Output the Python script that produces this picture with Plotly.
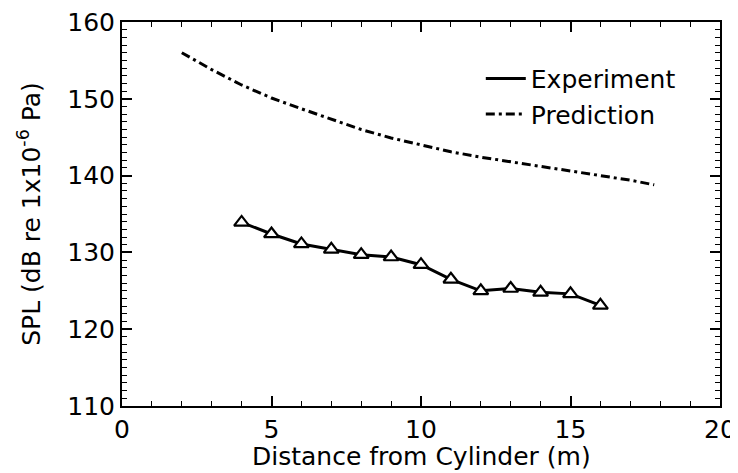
import plotly.graph_objects as go

# Data
exp_x = [4, 5, 6, 7, 8, 9, 10, 11, 12, 13, 14, 15, 16]
exp_y = [133.9, 132.4, 131.1, 130.4, 129.7, 129.4, 128.4, 126.5, 125.0, 125.3, 124.8, 124.6, 123.1]

pred_x = [2, 3, 4, 5, 6, 7, 8, 9, 10, 11, 12, 13, 14, 15, 16, 17, 17.8]
pred_y = [156.0, 153.8, 151.8, 150.1, 148.7, 147.3, 146.0, 144.9, 144.0, 143.1, 142.4, 141.8, 141.2, 140.6, 140.0, 139.4, 138.8]

x_ticks = [0, 5, 10, 15, 20]
y_ticks = [110, 120, 130, 140, 150, 160]

x_title = "Distance from Cylinder (m)"
y_title = "SPL (dB re 1x10<sup>-6</sup> Pa)"

FONT = "DejaVu Sans, Liberation Sans, Arial, sans-serif"
FS = 25

fig = go.Figure()
fig.add_trace(go.Scatter(x=exp_x, y=exp_y, mode="lines", name="Experiment",
                         line=dict(color="black", width=3)))
fig.add_trace(go.Scatter(x=pred_x, y=pred_y, mode="lines", name="Prediction",
                         line=dict(color="black", width=3, dash="9px,4px,3px,4px")))
fig.add_trace(go.Scatter(x=exp_x, y=exp_y, mode="markers", showlegend=False,
                         marker=dict(symbol="triangle-up", size=13, color="white",
                                     line=dict(color="black", width=2.2))))

axis_common = dict(showgrid=False, zeroline=False, showline=True, linecolor="black",
                   linewidth=2, mirror="allticks", ticks="inside", tickcolor="black",
                   tickwidth=1.5, ticklen=10, automargin=False, ticklabeloverflow="allow",
                   tickfont=dict(family=FONT, size=FS, color="black"))

fig.update_xaxes(range=[0, 20], tickvals=x_ticks, ticktext=[str(v) for v in x_ticks],
                 minor=dict(dtick=1, ticks="inside", ticklen=5, tickcolor="black", tickwidth=1.2),
                 **axis_common)
fig.update_yaxes(range=[110, 160], tickvals=y_ticks, ticktext=[str(v) for v in y_ticks],
                 minor=dict(dtick=1, ticks="inside", ticklen=5, tickcolor="black", tickwidth=1.2),
                 title=dict(text=y_title, standoff=20,
                            font=dict(family=FONT, size=FS, color="black")),
                 **axis_common)

fig.add_annotation(text=x_title, xref="paper", yref="paper", x=0.5, y=0,
                   xanchor="center", yanchor="middle", yshift=-50, showarrow=False,
                   font=dict(family=FONT, size=FS, color="black"))

fig.update_layout(
    width=738, height=473,
    margin=dict(l=114, r=26, t=14, b=75, autoexpand=False),
    plot_bgcolor="white", paper_bgcolor="white",
    font=dict(family=FONT, size=FS, color="black"),
    legend=dict(x=0.60, y=0.912, xanchor="left", yanchor="top",
                bgcolor="rgba(0,0,0,0)", borderwidth=0,
                font=dict(family=FONT, size=FS, color="black"),
                tracegroupgap=0, itemwidth=40),
)

fig.write_html("out.html")
